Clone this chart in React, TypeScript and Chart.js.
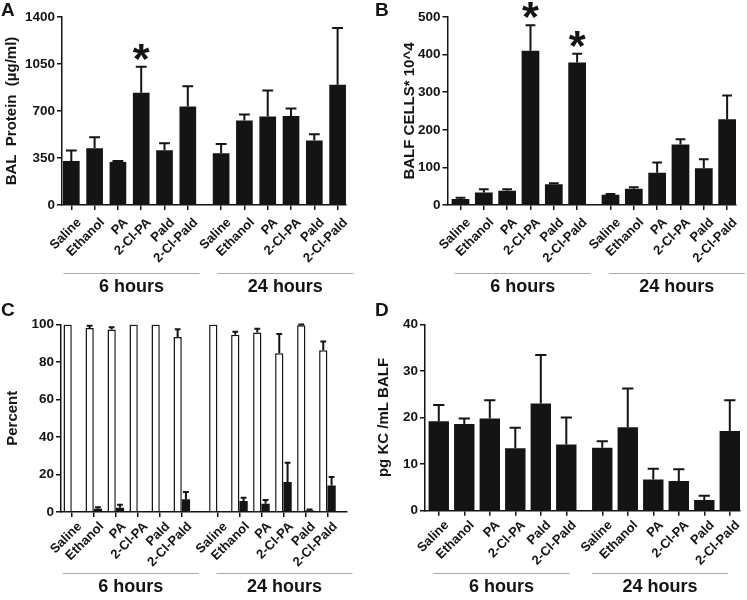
import React, { useEffect, useRef } from 'react';
import { Chart, registerables } from 'chart.js';

Chart.register(...registerables);

// ---------- data ----------
const CATEGORIES = ['Saline', 'Ethanol', 'PA', '2-Cl-PA', 'Pald', '2-Cl-Pald'];
const GROUPS = ['6 hours', '24 hours'];
const LABELS = GROUPS.flatMap(() => CATEGORIES);

// Panel A: BAL protein (µg/ml)
const A_MEAN = [328, 423, 321, 836, 408, 734, 385, 629, 659, 662, 480, 895];
const A_ERR_HIGH = [405, 505, 328, 1030, 460, 885, 455, 674, 853, 719, 527, 1318];
const A_SIG = [3];
const A_TICKS = [0, 350, 700, 1050, 1400];

// Panel B: BALF cells * 10^4
const B_MEAN = [16, 33, 38, 410, 55, 379, 27, 43.5, 86, 161, 98, 228];
const B_ERR_HIGH = [19.5, 42, 42, 478, 58, 402, 29, 47, 113, 175, 122, 291];
const B_SIG = [3, 5];
const B_TICKS = [0, 100, 200, 300, 400, 500];

// Panel C: Percent (open = white bars, filled = black bars)
const C_OPEN = [100, 98.2, 97.3, 100, 100, 93.4, 100, 94.5, 95.7, 84.7, 99.6, 86.3];
const C_OPEN_ERR_HIGH = [100, 99.3, 98.6, 100, 100, 97.5, 100, 96.1, 97.7, 95, 100, 90.9];
const C_FILLED = [0, 1.8, 2.3, 0, 0, 6.8, 0, 5.9, 4.4, 16, 1.0, 14.2];
const C_FILLED_ERR_HIGH = [0, 2.6, 3.9, 0, 0, 10.7, 0, 7.6, 6.4, 26.3, 1.3, 18.7];
const C_TICKS = [0, 20, 40, 60, 80, 100];

// Panel D: pg KC / mL BALF
const D_MEAN = [19.2, 18.6, 19.8, 13.4, 23.0, 14.2, 13.5, 17.9, 6.7, 6.4, 2.3, 17.1];
const D_ERR_HIGH = [22.7, 19.8, 23.7, 17.8, 33.4, 20.0, 14.9, 26.2, 9.0, 8.9, 3.2, 23.7];
const D_TICKS = [0, 10, 20, 30, 40];

// ---------- style ----------
const FONT = "'Liberation Sans', Arial, Helvetica, sans-serif";
const INK = '#141414';
const W = 373;
const H = 300;

type Series = { values: number[]; errHigh: number[]; fill: string; outline: boolean };
type Panel = {
  letter: string;
  left: number;
  top: number;
  title: string;
  titlePad: number;
  ticks: number[];
  series: Series[];
  sig: number[];
  pad: { top: number; right: number; left: number; bottom: number };
  yW: number;
  xH: number;
  xMin: number;
  xMax: number;
  g2: number;
  catPct: number;
  capFrac: number;
  groupShift: number[];
  labelPad: number;
};

const PANELS: Panel[] = [
  {
    letter: 'A', left: 0, top: 0, title: 'BAL  Protein  (µg/ml)', titlePad: 3, ticks: A_TICKS,
    series: [{ values: A_MEAN, errHigh: A_ERR_HIGH, fill: INK, outline: false }], sig: A_SIG,
    pad: { top: 17, right: 27, left: 0, bottom: 0 }, yW: 62, xH: 95,
    xMin: -0.4, xMax: 11.79, g2: 6.43, catPct: 0.716, capFrac: 0.65, groupShift: [2, 6], labelPad: 5,
  },
  {
    letter: 'B', left: 374, top: 0, title: 'BALF CELLS* 10^4', titlePad: 27, ticks: B_TICKS,
    series: [{ values: B_MEAN, errHigh: B_ERR_HIGH, fill: INK, outline: false }], sig: B_SIG,
    pad: { top: 17, right: 11, left: 0, bottom: 0 }, yW: 73.5, xH: 95,
    xMin: -0.557, xMax: 11.81, g2: 6.43, catPct: 0.76, capFrac: 0.55, groupShift: [4, 8], labelPad: 5,
  },
  {
    letter: 'C', left: 0, top: 300, title: 'Percent', titlePad: 3.5, ticks: C_TICKS,
    series: [
      { values: C_OPEN, errHigh: C_OPEN_ERR_HIGH, fill: '#ffffff', outline: true },
      { values: C_FILLED, errHigh: C_FILLED_ERR_HIGH, fill: INK, outline: false },
    ], sig: [],
    pad: { top: 24.5, right: 26, left: 0, bottom: 0 }, yW: 61, xH: 88,
    xMin: -0.49, xMax: 12.51, g2: 6.62, catPct: 0.755, capFrac: 0.7, groupShift: [4, 12], labelPad: 2,
  },
  {
    letter: 'D', left: 374, top: 300, title: 'pg KC /mL BALF', titlePad: 0.5, ticks: D_TICKS,
    series: [{ values: D_MEAN, errHigh: D_ERR_HIGH, fill: INK, outline: false }], sig: [],
    pad: { top: 24.3, right: 7, left: 0, bottom: 0 }, yW: 51, xH: 89.3,
    xMin: -0.54, xMax: 11.81, g2: 6.41, catPct: 0.8, capFrac: 0.55, groupShift: [-1, -6], labelPad: 2,
  },
];

const positions = (g2: number) =>
  LABELS.map((_, i) => (i < CATEGORIES.length ? i : g2 + (i - CATEGORIES.length)));

function buildChart(canvas: HTMLCanvasElement, p: Panel) {
  const pos = positions(p.g2);

  const errorBars = {
    id: 'errorBars',
    afterDatasetsDraw(chart: any) {
      const ctx = chart.ctx;
      const ys = chart.scales.y;
      ctx.save();
      ctx.strokeStyle = INK;
      ctx.lineWidth = 2;
      chart.data.datasets.forEach((ds: any, di: number) => {
        const meta = chart.getDatasetMeta(di);
        meta.data.forEach((bar: any, i: number) => {
          const v = ds.data[i].y;
          const hi = ds.errHigh[i];
          if (!(hi > v)) return;
          const { x, width } = bar.getProps(['x', 'width'], true);
          const y0 = ys.getPixelForValue(v);
          const y1 = ys.getPixelForValue(hi);
          const cap = width * p.capFrac;
          ctx.beginPath();
          ctx.moveTo(x, y0);
          ctx.lineTo(x, y1);
          ctx.moveTo(x - cap / 2, y1);
          ctx.lineTo(x + cap / 2, y1);
          ctx.stroke();
        });
      });
      ctx.restore();
    },
  };

  const decor = {
    id: 'decor',
    afterDraw(chart: any) {
      const ctx = chart.ctx;
      const xs = chart.scales.x;
      const ys = chart.scales.y;
      ctx.save();
      // panel letter
      ctx.fillStyle = INK;
      ctx.font = `bold 19px ${FONT}`;
      ctx.textAlign = 'left';
      ctx.textBaseline = 'alphabetic';
      ctx.fillText(p.letter, 1, 16);

      // significance asterisks
      const s0 = p.series[0];
      p.sig.forEach((i) => {
        const cx = xs.getPixelForValue(pos[i]);
        const cy = ys.getPixelForValue(s0.errHigh[i]) - 15;
        ctx.font = `bold 100px ${FONT}`;
        const m = ctx.measureText('*');
        const h100 = m.actualBoundingBoxAscent + m.actualBoundingBoxDescent;
        const size = (100 * 16.5) / h100;
        ctx.font = `bold ${size}px ${FONT}`;
        const m2 = ctx.measureText('*');
        const base = cy + (m2.actualBoundingBoxAscent - m2.actualBoundingBoxDescent) / 2;
        ctx.textAlign = 'center';
        ctx.fillText('*', cx, base);
      });

      // group lines and labels
      const n = CATEGORIES.length;
      GROUPS.forEach((g, gi) => {
        const a = xs.getPixelForValue(pos[gi * n]);
        const b = xs.getPixelForValue(pos[gi * n + n - 1]);
        const c = (a + b) / 2 + p.groupShift[gi];
        ctx.strokeStyle = '#a8a8a8';
        ctx.lineWidth = 1;
        ctx.beginPath();
        ctx.moveTo(c - 68, 273.5);
        ctx.lineTo(c + 68, 273.5);
        ctx.stroke();
        ctx.fillStyle = INK;
        ctx.font = `bold 18px ${FONT}`;
        ctx.textAlign = 'center';
        ctx.textBaseline = 'middle';
        ctx.fillText(g, c, 287);
      });
      ctx.restore();
    },
  };

  const axisGrid = {
    drawOnChartArea: false,
    drawTicks: true,
    tickLength: 5,
    color: INK,
    lineWidth: 1.5,
    offset: false,
  };

  return new Chart(canvas, {
    type: 'bar',
    data: {
      datasets: p.series.map((s) => ({
        data: s.values.map((v, i) => ({ x: pos[i], y: v })),
        backgroundColor: s.fill,
        borderColor: INK,
        borderWidth: s.outline ? 1.5 : 0,
        categoryPercentage: p.catPct,
        barPercentage: 1,
        errHigh: s.errHigh,
      })) as any,
    },
    options: {
      animation: false,
      responsive: false,
      layout: { padding: p.pad },
      plugins: { legend: { display: false }, tooltip: { enabled: false } },
      scales: {
        x: {
          type: 'linear',
          min: p.xMin,
          max: p.xMax,
          offset: false,
          grid: axisGrid,
          border: { display: true, color: INK, width: 1.5 },
          ticks: {
            autoSkip: false,
            minRotation: 45,
            maxRotation: 45,
            padding: p.labelPad,
            labelOffset: 8,
            color: INK,
            font: { family: FONT, size: 13, weight: 'bold' },
            callback: (_v: any, i: number) => LABELS[i],
          },
          afterBuildTicks: (s: any) => {
            s.ticks = pos.map((v) => ({ value: v }));
          },
          afterFit: (s: any) => {
            s.height = p.xH;
          },
        },
        y: {
          type: 'linear',
          min: p.ticks[0],
          max: p.ticks[p.ticks.length - 1],
          grid: axisGrid,
          border: { display: true, color: INK, width: 1.5 },
          ticks: {
            padding: 2,
            color: INK,
            font: { family: FONT, size: 13.5, weight: 'bold' },
            callback: (v: any) => String(v),
          },
          afterBuildTicks: (s: any) => {
            s.ticks = p.ticks.map((v) => ({ value: v }));
          },
          title: {
            display: true,
            text: p.title,
            color: INK,
            font: { family: FONT, size: 15, weight: 'bold' },
            padding: { top: p.titlePad, bottom: 0 },
          },
          afterFit: (s: any) => {
            s.width = p.yW;
          },
        },
      },
    } as any,
    plugins: [errorBars, decor],
  });
}

function PanelChart({ p }: { p: Panel }) {
  const ref = useRef<HTMLCanvasElement | null>(null);
  useEffect(() => {
    if (!ref.current) return;
    const chart = buildChart(ref.current, p);
    return () => chart.destroy();
  }, [p]);
  return (
    <canvas
      ref={ref}
      width={W}
      height={H}
      style={{ position: 'absolute', left: p.left, top: p.top, width: W, height: H }}
    />
  );
}

export default function App() {
  return (
    <div
      style={{
        position: 'absolute',
        left: 0,
        top: 0,
        width: 747,
        height: 600,
        background: '#ffffff',
        overflow: 'hidden',
      }}
    >
      {PANELS.map((p) => (
        <PanelChart key={p.letter} p={p} />
      ))}
    </div>
  );
}
